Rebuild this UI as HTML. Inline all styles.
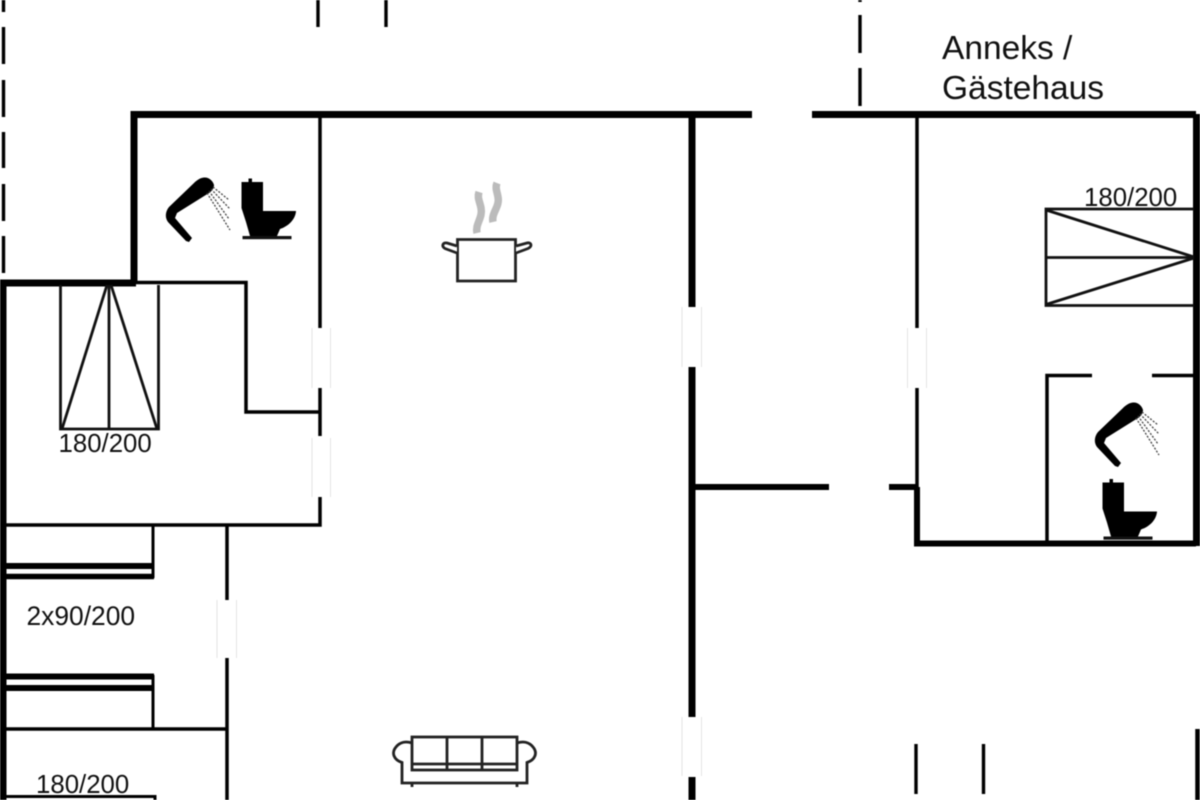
<!DOCTYPE html>
<html>
<head>
<meta charset="utf-8">
<style>
html,body{margin:0;padding:0;background:#fff;width:1200px;height:800px;overflow:hidden}
svg{display:block;filter:blur(0.4px)}
text{font-family:"Liberation Sans",sans-serif;fill:#111}
</style>
</head>
<body>
<svg width="1200" height="800" viewBox="0 0 1200 800" xmlns="http://www.w3.org/2000/svg">
<rect width="1200" height="800" fill="#fff"/>

<!-- dashed site lines -->
<g stroke="#000" stroke-width="3.4" fill="none">
  <path d="M3.5 0V12M3.5 27V64M3.5 80V117M3.5 132V168M3.5 184V221M3.5 236V273"/>
  <path d="M860 0V2M860 15V53M860 68V106"/>
  <path d="M318 0V27M386 0V27"/>
  <path d="M916 744V794M983.5 744V794"/>
</g>
<path d="M1197.5 729V800" stroke="#000" stroke-width="4.500" fill="none"/>

<!-- thick walls -->
<g stroke="#000" stroke-width="7" fill="none">
  <path d="M752 114.5H134V284"/>
  <path d="M812 114.5H1196"/>
  <path d="M0 283H136"/>
  <path d="M3 283V800"/>
  <path d="M692 115V307M692 367V717M692 777V800"/>
  <path d="M1196.5 114V546"/>
</g>
<g stroke="#000" stroke-width="6" fill="none">
  <path d="M695 487H829M889 487H917"/>
  <path d="M917 487V543.5H1196"/>
</g>

<!-- thin walls -->
<g stroke="#000" stroke-width="3.500" fill="none">
  <path d="M136 282.5H246V412H320"/>
  <path d="M320 117V328M320 388V436M320 497V525H5"/>
  <path d="M227 525V600M227 658V800"/>
  <path d="M5 729H227"/>
  <path d="M917 117V328M917 388V487"/>
  <path d="M1092 375.5H1047V541M1152 375.5H1196"/>
</g>

<!-- door marks -->
<g stroke="#e4e4e4" stroke-width="1" fill="none">
  <path d="M312 328V388M330.5 328V388"/>
  <path d="M312 438V497M330.5 438V497"/>
  <path d="M217 600V658M236.5 600V658"/>
  <path d="M682 307V367M701.5 307V367"/>
  <path d="M682 717V776M701.5 717V776"/>
  <path d="M907.5 328V388M926.5 328V388"/>
</g>

<!-- double bed left -->
<g stroke="#111" stroke-width="2.800" fill="none">
  <path d="M60.5 285V429H158.5V285"/>
  <path d="M109 285V429"/>
  <path d="M107 285L62 429M111 285L157 429"/>
</g>

<!-- double bed right -->
<g stroke="#111" stroke-width="2.800" fill="none">
  <path d="M1194 209H1046V305.5H1194"/>
  <path d="M1046 257.5H1194"/>
  <path d="M1046 210L1194 257M1046 304.5L1194 258"/>
</g>

<!-- single beds -->
<g stroke="#000" fill="none">
  <path d="M153 526V578" stroke-width="3"/>
  <path d="M5 566H154" stroke-width="6"/>
  <path d="M5 576.500H154" stroke-width="5.500"/>
  <path d="M5 676.5H154" stroke-width="6"/>
  <path d="M5 688H154" stroke-width="6"/>
  <path d="M153 675V728" stroke-width="3"/>
  <path d="M5 796.5H155V800" stroke-width="3"/>
</g>

<!-- shower -->
<defs>
  <g id="shower">
    <path d="M204 177.500C209 177 213 181 214 185C214 188 212 191 209 193L177 213L175 218L192 238L189 242L186 241L168 222C165 218 165 212 169 207L194 183C197 180 200 178 204 177.500Z" fill="#000"/>
    <g stroke="#444" stroke-width="1.300" stroke-dasharray="2 1.500" fill="none">
      <path d="M207 193L230 230"/>
      <path d="M209 191L229 219"/>
      <path d="M211 189L230 209"/>
      <path d="M213 187L229 200"/>
    </g>
  </g>
  <g id="toilet">
    <path d="M241.500 182H248.500V178.500H252V182H263V211H296C295.500 219 289 226 280 229L277 236H250L246 222L241.500 208Z" fill="#000"/>
    <rect x="242.500" y="236" width="49" height="3.200" fill="#111"/>
  </g>
</defs>
<use href="#shower"/>
<use href="#toilet"/>
<use href="#shower" transform="translate(929 225)"/>
<use href="#toilet" transform="translate(861 300.500)"/>

<!-- pot -->
<g fill="none">
  <path d="M457.500 239.500H515.500V281H457.500Z" stroke="#222" stroke-width="2.800"/>
  <path d="M457 253L445 248.500C441 246 443 242 447 243L457 246" stroke="#222" stroke-width="2.800" fill="#fff"/>
  <path d="M516 253L528 248.500C533 246 531 242 527 243L516 246" stroke="#222" stroke-width="2.800" fill="#fff"/>
  <path d="M477 233C475 224 483 218 481 208C480 202 477 198 479 192" stroke="#bbb" stroke-width="7.500"/>
  <path d="M493 222C491 213 500 207 498 197C497 191 495 188 497 183" stroke="#bbb" stroke-width="7.500"/>
</g>

<!-- sofa -->
<g stroke="#222" fill="none">
  <rect x="412" y="737" width="105" height="33" stroke-width="2.800"/>
  <path d="M447 737V770M482 737V770M412 764H517" stroke-width="2.800"/>
  <path d="M412 743C406 741 400 742 396 747C391 753 394 760 402 762.500V783H527V762.500C535 760 538 753 533 747C529 742 523 741 517 743" stroke-width="2.800"/>
  <path d="M412 783V787M517 783V787" stroke-width="2.800"/>
</g>

<!-- labels -->
<text x="942" y="59" font-size="33.500">Anneks /</text>
<text x="942" y="99" font-size="33.500">Gästehaus</text>
<text x="1084" y="206" font-size="25.800">180/200</text>
<text x="58.500" y="452" font-size="25.800">180/200</text>
<text x="26.500" y="625" font-size="26.400">2x90/200</text>
<text x="36" y="793" font-size="25.800">180/200</text>
</svg>
</body>
</html>
